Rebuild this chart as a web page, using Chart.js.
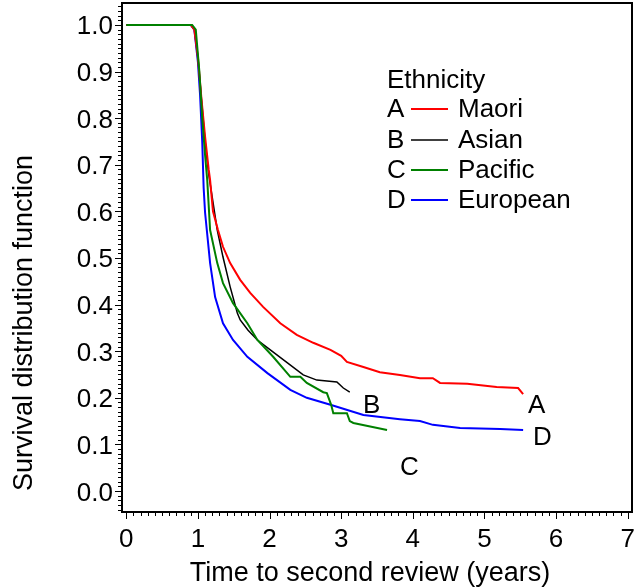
<!DOCTYPE html>
<html>
<head>
<meta charset="utf-8">
<script src="https://cdn.jsdelivr.net/npm/chart.js@4"></script>
<style>
  html, body { margin: 0; padding: 0; background: #fff; }
  #wrap { width: 635px; height: 587px; }
</style>
</head>
<body>
<div id="wrap"><canvas id="survChart" width="635" height="587"></canvas></div>
<script>
// survival curves (time in years, survival)
const timeMaori = [0, 0.9, 0.95, 1.0, 1.05, 1.1, 1.15, 1.17, 1.21, 1.28, 1.35, 1.45, 1.59, 1.73, 1.91, 2.15, 2.38, 2.61, 2.85, 3.0, 3.08, 3.31, 3.54, 3.82, 4.1, 4.28, 4.38, 4.76, 5.17, 5.47, 5.54];
const survMaori = [1, 1, 0.99, 0.93, 0.84, 0.76, 0.69, 0.667, 0.6, 0.56, 0.524, 0.489, 0.453, 0.425, 0.395, 0.36, 0.335, 0.318, 0.303, 0.29, 0.277, 0.266, 0.255, 0.249, 0.242, 0.242, 0.232, 0.23, 0.223, 0.221, 0.208];

const timeAsian = [0, 0.9, 0.95, 1.0, 1.05, 1.1, 1.15, 1.2, 1.27, 1.35, 1.45, 1.55, 1.59, 1.7, 1.83, 2.01, 2.25, 2.47, 2.66, 2.94, 3.03, 3.12];
const survAsian = [1, 1, 0.99, 0.93, 0.84, 0.75, 0.68, 0.63, 0.56, 0.502, 0.438, 0.382, 0.367, 0.345, 0.324, 0.303, 0.275, 0.249, 0.238, 0.234, 0.221, 0.212];

const timePacific = [0, 0.92, 0.97, 1.02, 1.06, 1.1, 1.13, 1.17, 1.27, 1.35, 1.49, 1.69, 1.83, 2.05, 2.29, 2.43, 2.52, 2.75, 2.8, 2.86, 2.89, 3.08, 3.12, 3.17, 3.64];
const survPacific = [1, 1, 0.99, 0.9, 0.8, 0.72, 0.667, 0.56, 0.489, 0.446, 0.403, 0.36, 0.324, 0.288, 0.245, 0.245, 0.232, 0.212, 0.21, 0.185, 0.167, 0.167, 0.15, 0.146, 0.131];

const timeEuropean = [0, 0.9, 0.95, 1.0, 1.03, 1.06, 1.08, 1.1, 1.17, 1.24, 1.35, 1.49, 1.69, 1.97, 2.29, 2.52, 2.85, 3.31, 3.82, 4.1, 4.28, 4.66, 5.22, 5.54];
const survEuropean = [1, 1, 0.99, 0.92, 0.85, 0.75, 0.65, 0.597, 0.489, 0.416, 0.36, 0.324, 0.288, 0.253, 0.217, 0.2, 0.185, 0.163, 0.154, 0.15, 0.142, 0.135, 0.133, 0.131];

const groupLetters = ['A', 'B', 'C', 'D'];
const groupNames = ['Maori', 'Asian', 'Pacific', 'European'];
const groupColors = ['#ff0000', '#000000', '#008000', '#0000ff'];

const xTicks = [0, 1, 2, 3, 4, 5, 6, 7];
const yTicks = [0, 0.1, 0.2, 0.3, 0.4, 0.5, 0.6, 0.7, 0.8, 0.9, 1.0];

const FONT = '"Liberation Sans", Arial, Helvetica, sans-serif';

function toPoints(ts, ss) {
    return ts.map((t, i) => ({ x: t, y: ss[i] }));
}

const allTimes = [timeMaori, timeAsian, timePacific, timeEuropean];
const allSurv = [survMaori, survAsian, survPacific, survEuropean];

const datasets = groupNames.map((name, i) => ({
    label: name,
    data: toPoints(allTimes[i], allSurv[i]),
    borderColor: groupColors[i],
    borderWidth: i == 1 ? 1.5 : 2,
    pointRadius: 0,
    tension: 0,
    fill: false,
    order: [1, 3, 0, 2][i]
}));

// end labels placed next to each curve
const endLabels = [
    { text: 'A', x: 528, y: 413 },
    { text: 'B', x: 363, y: 413 },
    { text: 'C', x: 400, y: 475 },
    { text: 'D', x: 533, y: 445 }
];

const decorPlugin = {
    id: 'decor',
    afterDraw(chart) {
        const ctx = chart.ctx;
        const area = chart.chartArea;
        const xs = chart.scales.x;
        const ys = chart.scales.y;
        ctx.save();
        ctx.strokeStyle = '#000';

        // frame
        ctx.lineWidth = 2;
        ctx.strokeRect(area.left, area.top, area.right - area.left, area.bottom - area.top);

        // ticks
        ctx.lineWidth = 1;
        ctx.beginPath();
        for (let i = 0; i <= 70; i++) {
            const px = Math.round(xs.getPixelForValue(i / 10)) + 0.5;
            const len = (i % 10 == 0) ? 7 : 4;
            ctx.moveTo(px, area.bottom);
            ctx.lineTo(px, area.bottom + len);
        }
        for (let i = -4; i <= 104; i++) {
            const py = Math.round(ys.getPixelForValue(i / 100)) + 0.5;
            const len = (i % 10 == 0) ? 7 : 4;
            ctx.moveTo(area.left, py);
            ctx.lineTo(area.left - len, py);
        }
        ctx.stroke();

        // tick labels
        ctx.fillStyle = '#000';
        ctx.font = '26px ' + FONT;
        ctx.textBaseline = 'alphabetic';
        ctx.textAlign = 'center';
        xTicks.forEach(v => ctx.fillText(String(v), xs.getPixelForValue(v), 547));
        ctx.textAlign = 'right';
        yTicks.forEach(v => ctx.fillText(v.toFixed(1), 113, ys.getPixelForValue(v) + 9.5));

        // axis titles
        ctx.font = '27px ' + FONT;
        ctx.textAlign = 'center';
        ctx.fillText('Time to second review (years)', 370, 581);
        ctx.save();
        ctx.translate(32, 323);
        ctx.rotate(-Math.PI / 2);
        ctx.fillText('Survival distribution function', 0, 0);
        ctx.restore();

        // legend
        ctx.font = '26px ' + FONT;
        ctx.textAlign = 'left';
        ctx.fillText('Ethnicity', 387, 88);
        const rowY = [117, 148, 178, 208];
        groupNames.forEach((name, i) => {
            ctx.fillStyle = '#000';
            ctx.fillText(groupLetters[i], 387, rowY[i]);
            ctx.fillText(name, 458, rowY[i]);
            ctx.strokeStyle = groupColors[i];
            ctx.lineWidth = i == 1 ? 1.5 : 2;
            ctx.beginPath();
            ctx.moveTo(411, rowY[i] - 8);
            ctx.lineTo(448, rowY[i] - 8);
            ctx.stroke();
        });

        // curve end labels
        ctx.fillStyle = '#000';
        endLabels.forEach(l => ctx.fillText(l.text, l.x, l.y));
        ctx.restore();
    }
};

const survChart = new Chart(document.getElementById('survChart').getContext('2d'), {
    type: 'line',
    data: { datasets: datasets },
    options: {
        responsive: false,
        animation: false,
        layout: { padding: { top: 3, right: 3, left: 0, bottom: 0 } },
        plugins: {
            legend: { display: false },
            tooltip: { enabled: false }
        },
        scales: {
            x: {
                type: 'linear',
                min: -0.06,
                max: 7.06,
                afterFit: s => { s.height = 75; },
                grid: { display: false, drawTicks: false },
                border: { display: false },
                ticks: { display: false }
            },
            y: {
                type: 'linear',
                min: -0.045,
                max: 1.047,
                afterFit: s => { s.width = 122; },
                grid: { display: false, drawTicks: false },
                border: { display: false },
                ticks: { display: false }
            }
        }
    },
    plugins: [decorPlugin]
});
</script>
</body>
</html>
